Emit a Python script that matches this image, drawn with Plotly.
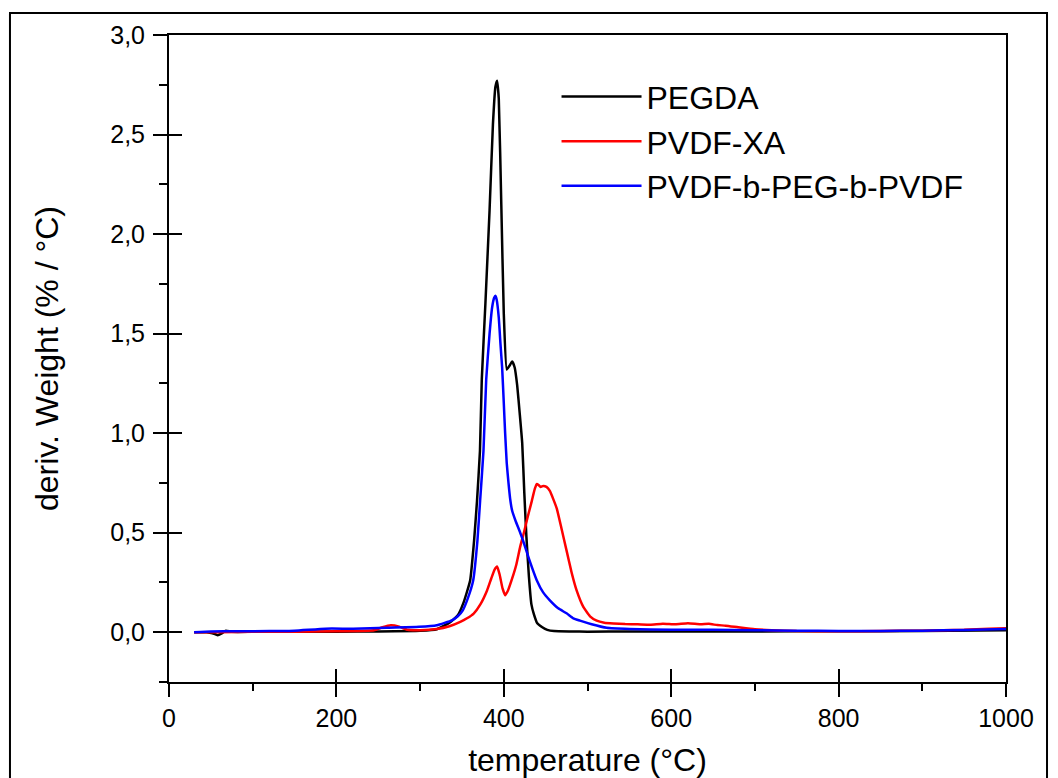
import plotly.graph_objects as go

# ---------------- data ----------------
pegda_t = [30, 45, 52, 58, 63, 68, 75, 100, 150, 200, 250, 300, 320, 336, 345, 352, 359.8, 364.5,
           368, 371.5, 373.7, 378, 383, 387, 390, 392, 394, 397, 400, 403.5, 407, 410, 413, 416,
           419, 422, 424.5, 427, 430, 433, 436, 440, 446, 452, 460, 480, 500, 550, 600, 700,
           800, 900, 1000]
pegda_w = [0.0, 0.0, -0.005, -0.015, -0.006, 0.008, 0.002, 0.002, 0.002, 0.003, 0.004, 0.007,
           0.015, 0.05, 0.085, 0.15, 0.26, 0.46, 0.66, 0.91, 1.27, 1.65, 2.12, 2.55, 2.74, 2.77,
           2.68, 2.15, 1.60, 1.32, 1.34, 1.36, 1.33, 1.24, 1.10, 0.95, 0.70, 0.48, 0.28, 0.14,
           0.09, 0.045, 0.025, 0.012, 0.006, 0.004, 0.003, 0.004, 0.004, 0.004, 0.005, 0.006, 0.01]

xa_t = [30, 60, 100, 150, 200, 245, 255, 265, 275, 285, 300, 320, 335, 348, 356, 364, 372, 380,
        385, 389, 392, 395, 398.5, 401.6, 405, 410, 415, 419.6, 424, 428, 433.5, 437, 439.5,
        441.5, 444, 447, 451, 455, 459, 463.4, 469, 475, 481, 487, 495, 503, 511, 520, 531,
        545, 560, 575, 590, 605, 620, 635, 645, 655, 665, 680, 700, 720, 750, 800, 850, 900,
        950, 980, 1000]
xa_w = [0.0, 0.0, 0.002, 0.003, 0.005, 0.01, 0.025, 0.035, 0.028, 0.012, 0.01, 0.016, 0.03,
        0.052, 0.07, 0.094, 0.14, 0.21, 0.27, 0.315, 0.33, 0.29, 0.22, 0.186, 0.21, 0.27, 0.34,
        0.43, 0.5, 0.57, 0.66, 0.72, 0.745, 0.74, 0.73, 0.735, 0.73, 0.71, 0.67, 0.62, 0.52,
        0.41, 0.3, 0.21, 0.127, 0.08, 0.058, 0.048, 0.044, 0.041, 0.04, 0.038, 0.043, 0.04,
        0.045, 0.04, 0.042, 0.036, 0.033, 0.025, 0.015, 0.01, 0.006, 0.005, 0.006, 0.008,
        0.012, 0.018, 0.02]

blk_t = [30, 50, 80, 120, 150, 187, 220, 260, 299, 320, 338, 345, 351, 357, 363.4, 368.5,
         371.7, 375.7, 379, 383, 386, 388.5, 390, 391.5, 394, 396, 398, 400, 401.6, 403.5,
         405.6, 407.6, 410, 414, 419.6, 423, 430, 439.5, 447, 455, 465, 475, 483, 491, 505,
         523, 550, 600, 650, 700, 750, 800, 850, 900, 950, 1000]
blk_w = [0.0, 0.004, 0.005, 0.006, 0.008, 0.018, 0.018, 0.022, 0.027, 0.035, 0.06, 0.08, 0.11,
         0.17, 0.26, 0.46, 0.66, 0.91, 1.27, 1.5, 1.63, 1.68, 1.69, 1.67, 1.58, 1.45, 1.33,
         1.15, 1.0, 0.85, 0.75, 0.67, 0.61, 0.56, 0.5, 0.46, 0.37, 0.26, 0.2, 0.16, 0.12,
         0.095, 0.07, 0.058, 0.04, 0.022, 0.016, 0.012, 0.012, 0.01, 0.008, 0.006, 0.006,
         0.008, 0.011, 0.016]

series_names = ["PEGDA", "PVDF-XA", "PVDF-b-PEG-b-PVDF"]
series_colors = ["#000000", "#ff0000", "#0000ff"]

x_range = [0, 1000]
y_range = [-0.25, 3.0]

FONT = "Liberation Sans, Arial, sans-serif"

fig = go.Figure()
for name, t, w, c in zip(series_names, [pegda_t, xa_t, blk_t], [pegda_w, xa_w, blk_w], series_colors):
    fig.add_trace(go.Scatter(x=t, y=w, mode="lines", name=name,
                             line=dict(color=c, width=2.5, shape="spline", smoothing=0.4)))

# helper trace so the overlay axes (inner halves of the crossing major ticks) get drawn
fig.add_trace(go.Scatter(x=pegda_t, y=pegda_w, xaxis="x2", yaxis="y2", mode="lines",
                         line=dict(width=0), opacity=0, showlegend=False, hoverinfo="skip"))

axis_common = dict(showgrid=False, zeroline=False, linecolor="black", linewidth=2,
                   tickcolor="black", tickwidth=2, automargin=False,
                   tickfont=dict(size=25, color="black", family=FONT))

fig.update_layout(
    width=1050, height=770,
    margin=dict(l=161, r=52, t=27, b=96),
    paper_bgcolor="white", plot_bgcolor="white",
    font=dict(family=FONT, color="black"),
    separators=", ",
    showlegend=True,
    legend=dict(x=0.463, y=0.947, xanchor="left", yanchor="top", bgcolor="rgba(0,0,0,0)",
                font=dict(size=32, family=FONT, color="black"), itemwidth=80,
                tracegroupgap=0),
    xaxis=dict(range=x_range, tick0=0, dtick=200, ticks="outside", ticklen=13,
               showline=True, mirror=True,
               minor=dict(dtick=100, ticks="outside", ticklen=7, tickwidth=2, tickcolor="black"),
               title=dict(text="temperature (°C)", font=dict(size=32, family=FONT), standoff=19),
               **axis_common),
    yaxis=dict(range=y_range, tick0=0, dtick=0.5, tickformat=".1f", ticks="outside", ticklen=14,
               showline=True, mirror=True, ticklabelstandoff=3,
               minor=dict(dtick=0.25, ticks="outside", ticklen=8, tickwidth=2, tickcolor="black"),
               title=dict(text="deriv. Weight (% / °C)", font=dict(size=32, family=FONT), standoff=42),
               **axis_common),
    xaxis2=dict(range=x_range, overlaying="x", anchor="y2", side="bottom", tick0=0, dtick=200,
                ticks="inside", ticklen=13, tickwidth=2, tickcolor="black", showticklabels=False,
                showline=False, showgrid=False, zeroline=False),
    yaxis2=dict(range=y_range, overlaying="y", anchor="x2", side="left", tick0=0, dtick=0.5,
                ticks="inside", ticklen=13, tickwidth=2, tickcolor="black", showticklabels=False,
                showline=False, showgrid=False, zeroline=False),
    shapes=[dict(type="rect", xref="paper", yref="paper", x0=-0.19, x1=1.049, y0=-0.25, y1=1.034,
                 line=dict(color="black", width=2), fillcolor="rgba(0,0,0,0)", layer="below")],
)

fig.write_html("out.html")
